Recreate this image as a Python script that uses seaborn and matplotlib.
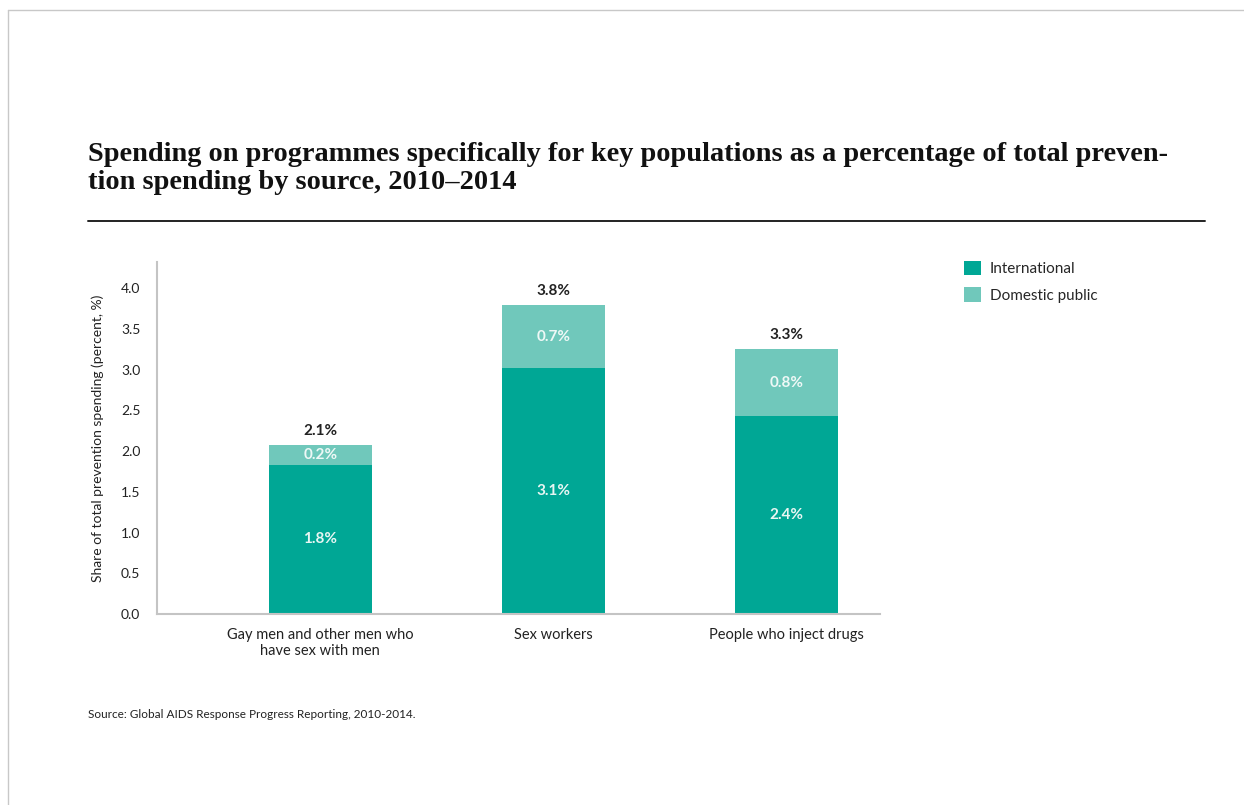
import numpy as np
import pandas as pd
import matplotlib
matplotlib.use('Agg')
import matplotlib.pyplot as plt
import seaborn as sns

# data
groups = ['Gay men and other men who\nhave sex with men', 'Sex workers', 'People who inject drugs']
international = [1.83, 3.02, 2.43]
domestic = [0.24, 0.77, 0.82]
intl_labels = ['1.8%', '3.1%', '2.4%']
dom_labels = ['0.2%', '0.7%', '0.8%']
total_labels = ['2.1%', '3.8%', '3.3%']
yticks = [0.0, 0.5, 1.0, 1.5, 2.0, 2.5, 3.0, 3.5, 4.0]

c_intl = '#00a795'
c_dom = '#70c8bb'

sns.set_theme(style='white')
plt.rcParams['font.family'] = ['Lato', 'DejaVu Sans']

fig = plt.figure(figsize=(12.44, 8.05), dpi=100)
ax = fig.add_axes([157 / 1244, 1 - 614 / 805, (880 - 157) / 1244, (614 - 262) / 805])

df = pd.DataFrame({'group': groups, 'International': international, 'Domestic public': domestic})
df['total'] = df['International'] + df['Domestic public']

# stacked bars: draw totals first (domestic colour), then international on top
sns.barplot(data=df, x='group', y='total', color=c_dom, width=0.44, ax=ax,
            saturation=1, label='Domestic public', linewidth=0)
sns.barplot(data=df, x='group', y='International', color=c_intl, width=0.44, ax=ax,
            saturation=1, label='International', linewidth=0)

for i in range(len(groups)):
    ax.text(i, international[i] / 2, intl_labels[i], ha='center', va='center',
            color='#e8f6f3', fontsize=11, fontweight='bold')
    ax.text(i, international[i] + domestic[i] / 2, dom_labels[i], ha='center', va='center',
            color='#eef8f6', fontsize=11, fontweight='bold')
    ax.text(i, df['total'][i] + 0.09, total_labels[i], ha='center', va='bottom',
            color='#222222', fontsize=11, fontweight='bold')

ax.set_xlim(-0.70, 2.40)
ax.set_ylim(0, 4.32)
ax.set_yticks(yticks)
ax.set_yticklabels([f'{v:.1f}' for v in yticks], fontsize=10, color='#222222')
ax.tick_params(axis='x', labelsize=10.5, colors='#222222', pad=10, length=0)
ax.tick_params(axis='y', length=0, pad=12)
ax.set_xlabel('')
ax.set_ylabel('Share of total prevention spending (percent, %)', fontsize=10, color='#222222',
              labelpad=12)
for s in ['top', 'right']:
    ax.spines[s].set_visible(False)
for s in ['left', 'bottom']:
    ax.spines[s].set_color('#c4c4c4')
    ax.spines[s].set_linewidth(1.5)

# legend (International first)
handles, labels = ax.get_legend_handles_labels()
order = [labels.index('International'), labels.index('Domestic public')]
fig.legend([handles[k] for k in order], [labels[k] for k in order],
           loc='upper left', bbox_to_anchor=(950 / 1244, 1 - 247 / 805), frameon=False,
           fontsize=11, handlelength=1.1, handleheight=1.1, handletextpad=0.6,
           labelspacing=0.7)
if ax.get_legend() is not None:
    ax.get_legend().remove()

# title
fig.text(88 / 1244, 1 - 189 / 805,
         'Spending on programmes specifically for key populations as a percentage of total preven-\n'
         'tion spending by source, 2010\u20132014',
         fontsize=20.4, fontweight='bold', family=['Liberation Serif', 'DejaVu Serif'],
         color='#111111', va='baseline', linespacing=1.18)
fig.add_artist(plt.Line2D([88 / 1244, 1205 / 1244], [1 - 221 / 805, 1 - 221 / 805],
                          color='#222222', lw=1.4))

fig.text(88 / 1244, 1 - 714 / 805, 'Source: Global AIDS Response Progress Reporting, 2010-2014.',
         fontsize=8.5, color='#222222', va='center')

# screenshot frame
fig.add_artist(plt.Line2D([8 / 1244, 1], [1 - 10 / 805, 1 - 10 / 805], color='#c8c8c8', lw=1))
fig.add_artist(plt.Line2D([8 / 1244, 8 / 1244], [0, 1 - 10 / 805], color='#c8c8c8', lw=1))

fig.savefig('out.png', dpi=100, facecolor='white')
